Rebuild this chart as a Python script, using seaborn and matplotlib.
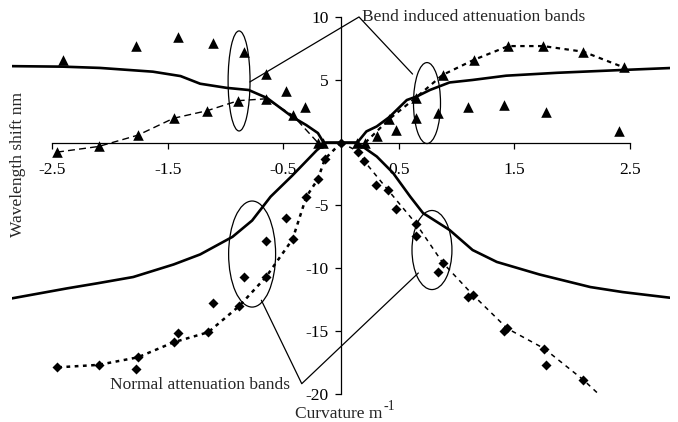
import matplotlib
matplotlib.use("Agg")
import matplotlib.pyplot as plt
from matplotlib.patches import Ellipse
import pandas as pd
import seaborn as sns

# Modelled wavelength shift (solid curves)
upper_curve_x = [-2.85, -2.41, -2.09, -1.63, -1.39, -1.22, -0.99, -0.80, -0.64, -0.42, -0.30,
                 -0.20, -0.15, 0.0, 0.14, 0.22, 0.31, 0.42, 0.57, 0.66, 0.77, 0.94, 1.14,
                 1.43, 1.87, 2.45, 2.85]
upper_curve_y = [6.1, 6.06, 5.96, 5.66, 5.31, 4.7, 4.37, 4.2, 3.56, 2.05, 1.4,
                 0.77, 0.0, 0.0, 0.0, 0.9, 1.3, 2.05, 3.4, 3.7, 4.2, 4.8, 5.0,
                 5.34, 5.57, 5.8, 5.95]
lower_curve_x = [-2.85, -2.37, -2.11, -1.80, -1.45, -1.22, -0.94, -0.77, -0.61, -0.42, -0.21,
                 -0.13, 0.0, 0.14, 0.31, 0.45, 0.60, 0.71, 0.94, 1.14, 1.35, 1.72, 2.16,
                 2.44, 2.85]
lower_curve_y = [-12.4, -11.6, -11.2, -10.7, -9.7, -8.9, -7.5, -6.2, -4.3, -2.6, -0.6,
                 0.0, 0.0, 0.0, -1.1, -2.4, -4.3, -5.6, -6.95, -8.55, -9.5, -10.5, -11.5,
                 -11.9, -12.35]

# Bend induced attenuation band, measured (triangles)
tri_free_x = [-2.41, -1.78, -1.41, -1.11, -0.84, -0.65, -0.48, -0.31, -0.16,
              0.14, 0.31, 0.48, 0.65, 0.84, 1.10, 1.41, 1.78, 2.41]
tri_free_y = [6.6, 7.7, 8.4, 7.95, 7.2, 5.5, 4.15, 2.85, 0.0,
              0.0, 0.5, 1.0, 2.0, 2.4, 2.85, 3.0, 2.45, 0.95]
tri_left_x = [-2.46, -2.10, -1.76, -1.45, -1.16, -0.89, -0.65, -0.42, -0.20]
tri_left_y = [-0.75, -0.3, 0.6, 1.95, 2.55, 3.35, 3.5, 2.2, 0.0]
tri_right_x = [0.21, 0.42, 0.65, 0.88, 1.15, 1.45, 1.75, 2.10, 2.45]
tri_right_y = [0.0, 1.9, 3.6, 5.4, 6.6, 7.7, 7.7, 7.25, 6.0]

# Normal attenuation band, measured (diamonds)
dia_free_x = [-1.78, -1.41, -1.11, -0.84, -0.65, -0.48,
              0.30, 0.48, 0.65, 0.84, 1.10, 1.41, 1.78]
dia_free_y = [-18.0, -15.2, -12.8, -10.7, -7.85, -6.0,
              -3.4, -5.3, -7.4, -10.3, -12.3, -15.0, -17.7]
dia_left_x = [0.0, -0.14, -0.20, -0.30, -0.42, -0.65, -0.88, -1.15, -1.45, -1.76, -2.10, -2.46]
dia_left_y = [0.0, -1.3, -2.9, -4.3, -7.7, -10.7, -13.0, -15.1, -15.9, -17.1, -17.7, -17.9]
dia_right_x = [0.15, 0.20, 0.41, 0.65, 0.88, 1.14, 1.44, 1.76, 2.10]
dia_right_y = [-0.7, -1.45, -3.8, -6.45, -9.55, -12.1, -14.8, -16.4, -18.9]
dia_right_trend_x = [0.0, 0.15, 0.20, 0.41, 0.65, 0.88, 1.14, 1.44, 1.76, 2.10, 2.24]
dia_right_trend_y = [0.0, -0.7, -1.45, -3.8, -6.45, -9.55, -12.1, -14.8, -16.4, -18.9, -20.1]

x_ticks = [-2.5, -1.5, -0.5, 0.5, 1.5, 2.5]
x_tick_labels = ["-2.5", "-1.5", "-0.5", "0.5", "1.5", "2.5"]
y_ticks = [-20, -15, -10, -5, 5, 10]
y_tick_labels = ["-20", "-15", "-10", "-5", "5", "10"]

sns.set_theme(style="ticks")
plt.rcParams["font.family"] = ["Liberation Serif", "DejaVu Serif"]
FS = 12.5

fig = plt.figure(figsize=(6.78, 4.22), dpi=100)
fig.patch.set_facecolor("white")
ax = fig.add_axes([0.0177, 0.0521, 0.9705, 0.922])
ax.set_facecolor("white")


def df(x, y):
    return pd.DataFrame({"x": x, "y": y})


line_kw = dict(x="x", y="y", sort=False, estimator=None, color="black", ax=ax)

# solid model curves
sns.lineplot(data=df(upper_curve_x, upper_curve_y), lw=1.9, **line_kw)
sns.lineplot(data=df(lower_curve_x, lower_curve_y), lw=1.9, **line_kw)

# trend lines through the measured points
sns.lineplot(data=df(tri_left_x, tri_left_y), lw=1.0, linestyle=(0, (5, 3)), **line_kw)
sns.lineplot(data=df(tri_right_x, tri_right_y), lw=1.6, linestyle=(0, (2, 2)), **line_kw)
sns.lineplot(data=df(dia_left_x, dia_left_y), lw=1.8, linestyle=(0, (1.5, 1.8)), **line_kw)
sns.lineplot(data=df(dia_right_trend_x, dia_right_trend_y), lw=1.1, linestyle=(0, (3, 3)), **line_kw)

# markers
sc_kw = dict(x="x", y="y", color="black", edgecolor="black", linewidth=0, ax=ax, zorder=4)
tri_all = pd.concat([df(tri_free_x, tri_free_y), df(tri_left_x, tri_left_y),
                     df(tri_right_x, tri_right_y)])
dia_all = pd.concat([df(dia_free_x, dia_free_y), df(dia_left_x, dia_left_y),
                     df(dia_right_x, dia_right_y)])
sns.scatterplot(data=tri_all, marker="^", s=58, **sc_kw)
sns.scatterplot(data=dia_all, marker="D", s=26, **sc_kw)

ax.set_xlim(-2.85, 2.85)
ax.set_ylim(-20.5, 10.5)

# axes crossing at the origin
for side in ("top", "right"):
    ax.spines[side].set_visible(False)
ax.spines["left"].set_position(("data", 0))
ax.spines["bottom"].set_position(("data", 0))
ax.spines["left"].set_bounds(-20, 10)
ax.spines["bottom"].set_bounds(-2.5, 2.5)
for side in ("left", "bottom"):
    ax.spines[side].set_color("black")
    ax.spines[side].set_linewidth(0.9)
    ax.spines[side].set_zorder(3)

ax.set_xticks(x_ticks)
ax.set_xticklabels(x_tick_labels)
ax.set_yticks(y_ticks)
ax.set_yticklabels(y_tick_labels)
ax.tick_params(axis="x", direction="out", length=4, width=0.9, color="black",
               pad=10, labelsize=FS, labelcolor="black")
ax.tick_params(axis="y", direction="out", length=4, width=0.9, color="black",
               pad=5, labelsize=FS, labelcolor="black")
ax.set_xlabel("")
ax.set_ylabel("")

# axis titles
ax.text(0.36, -21.6, "Curvature m", ha="right", va="center", fontsize=FS,
        clip_on=False)
ax.annotate("-1", xy=(0.36, -21.6), xytext=(0.5, 5), textcoords="offset points",
            ha="left", va="center", fontsize=10, annotation_clip=False)
ax.text(-2.8, -1.7, "Wavelength shift nm", rotation=90, ha="center", va="center",
        fontsize=FS, clip_on=False)

# band highlights
ell_kw = dict(fill=False, edgecolor="black", lw=0.9, zorder=5)
ax.add_patch(Ellipse((-0.883, 4.92), 0.19, 7.97, **ell_kw))
ax.add_patch(Ellipse((0.745, 3.16), 0.234, 6.45, **ell_kw))
ax.add_patch(Ellipse((-0.77, -8.87), 0.407, 8.45, **ell_kw))
ax.add_patch(Ellipse((0.788, -8.55), 0.346, 6.3, **ell_kw))

# callouts
ax.plot([-0.79, 0.156, 0.62], [4.84, 10.02, 5.47], color="black", lw=0.9,
        clip_on=False, zorder=5)
ax.text(0.18, 10.0, "Bend induced attenuation bands", ha="left", va="center",
        fontsize=FS, clip_on=False)
ax.plot([-0.69, -0.34, 0.67], [-12.55, -19.2, -10.38], color="black", lw=0.9,
        clip_on=False, zorder=5)
ax.text(-0.44, -19.3, "Normal attenuation bands", ha="right", va="center",
        fontsize=FS, clip_on=False)

fig.savefig("out.png", dpi=100, facecolor="white")
